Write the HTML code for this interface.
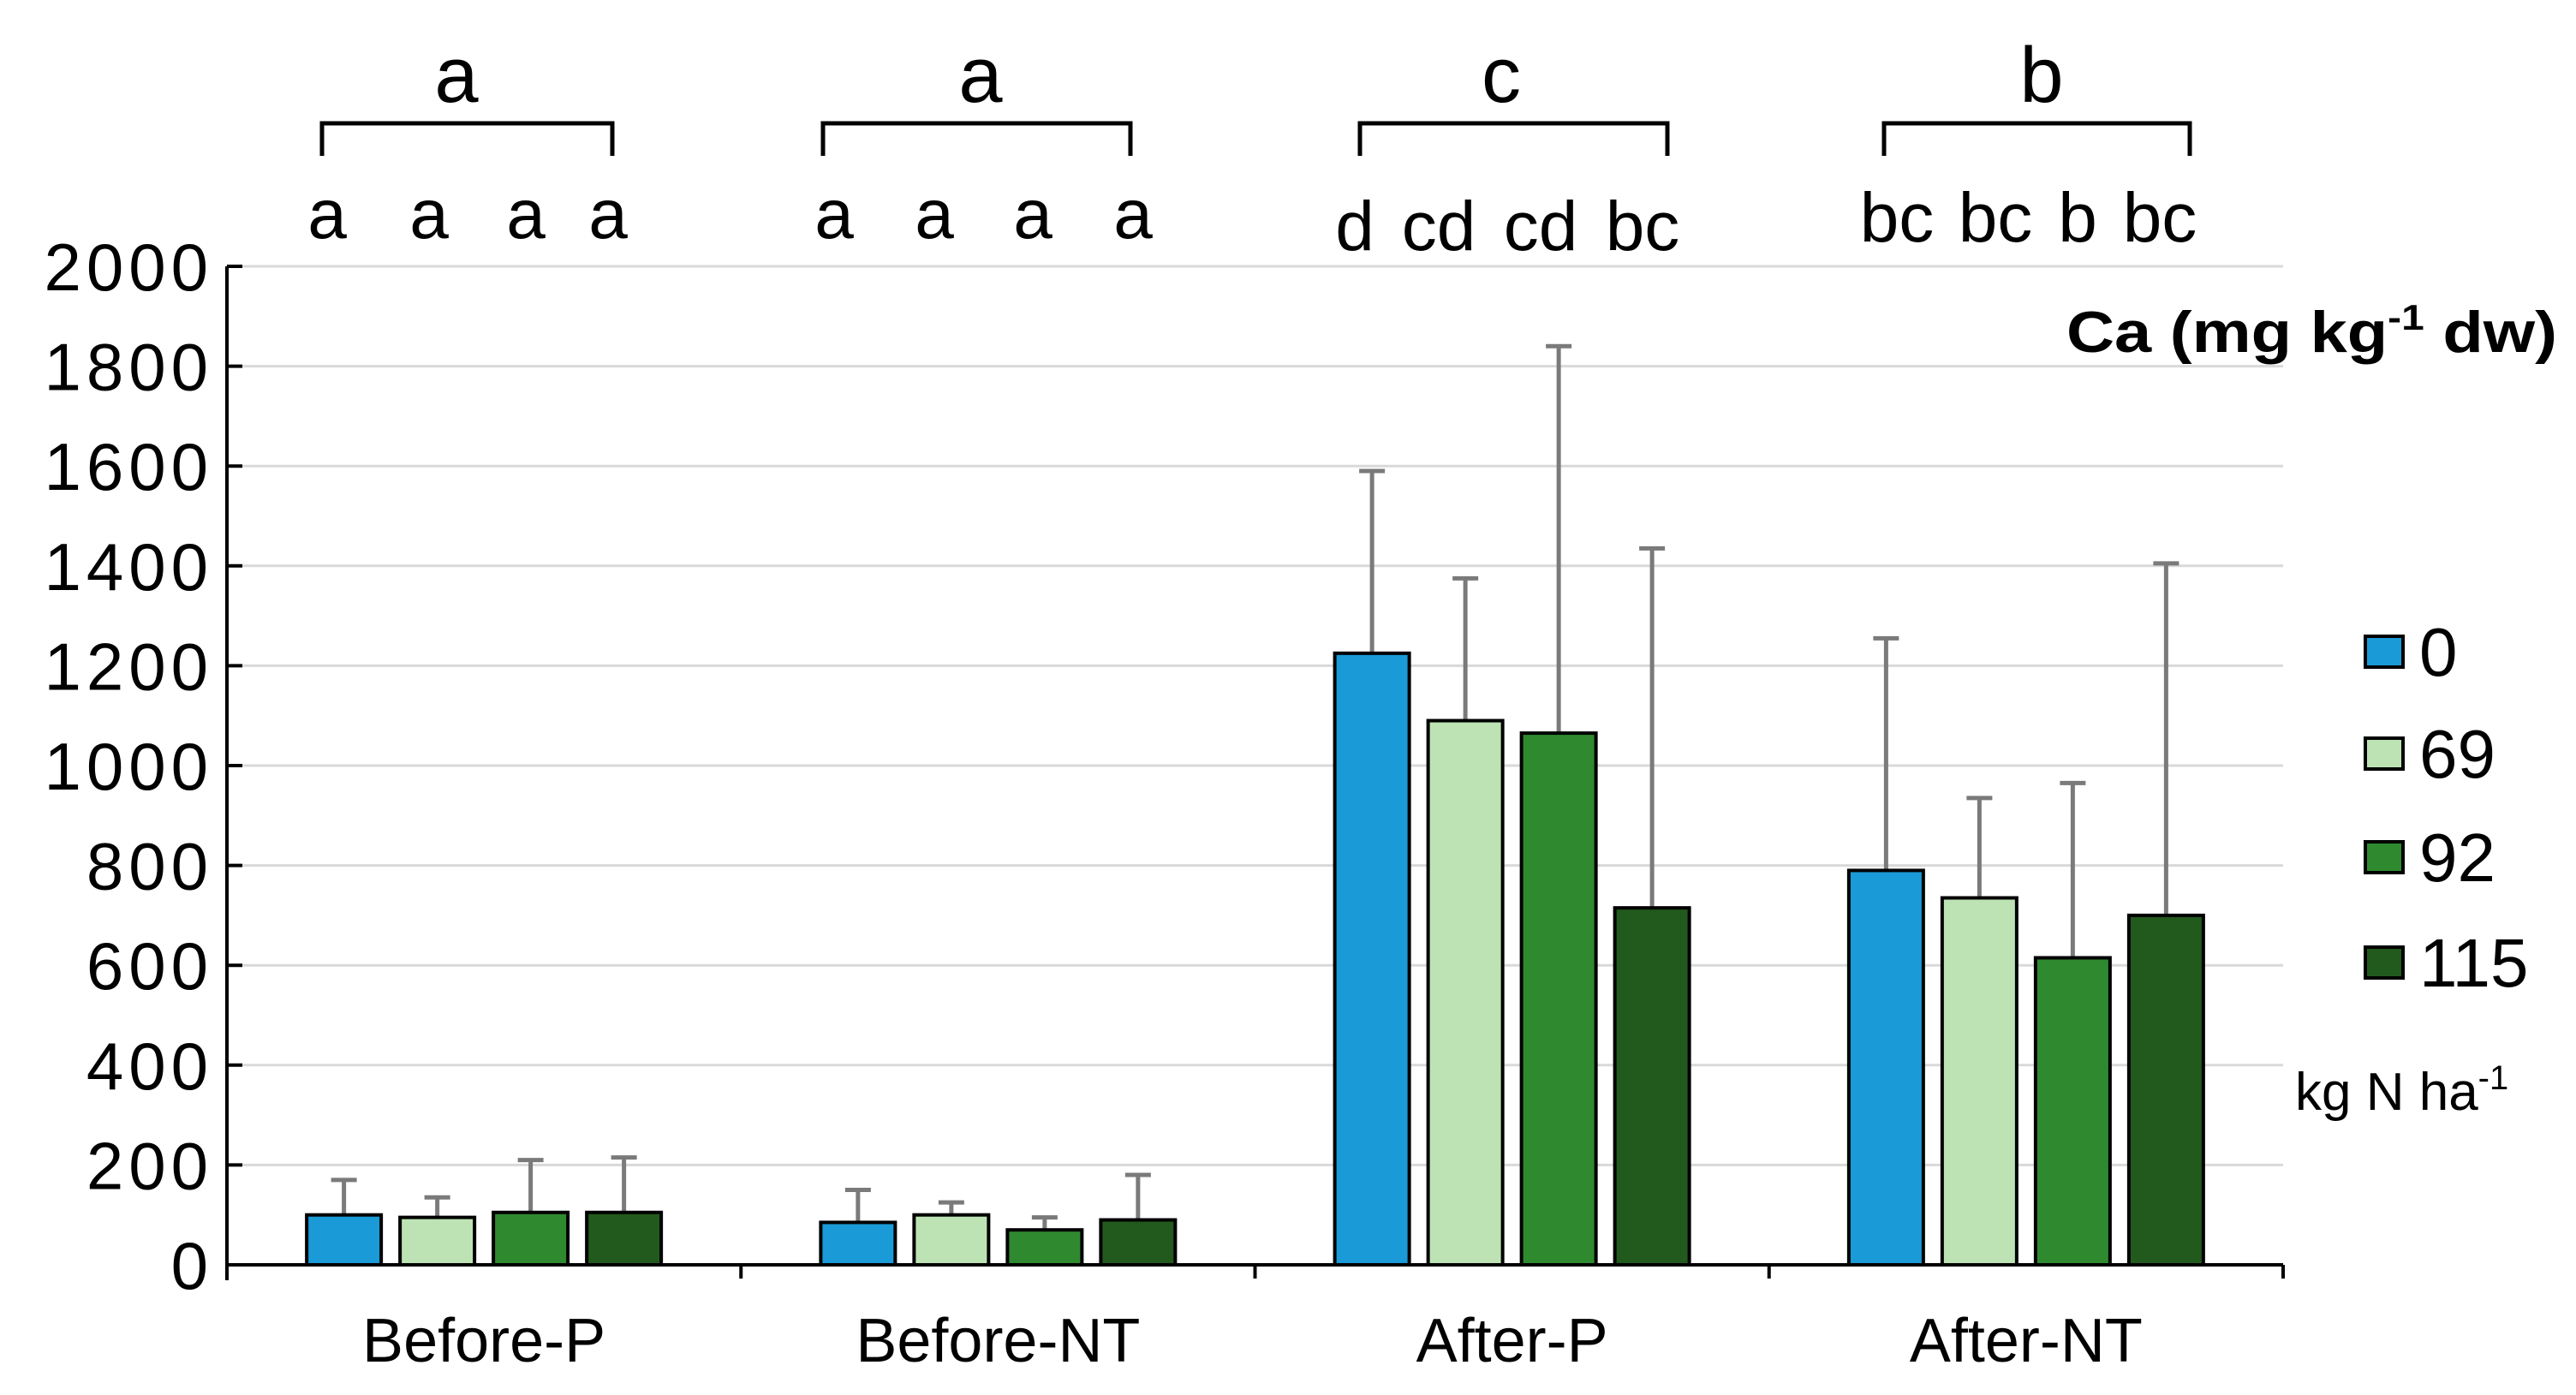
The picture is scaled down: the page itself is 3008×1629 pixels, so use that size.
<!DOCTYPE html>
<html><head><meta charset="utf-8"><style>
html,body{margin:0;padding:0;background:#fff;}
svg{display:block;}
text{font-family:"Liberation Sans",sans-serif;fill:#000;}
</style></head><body>
<svg id="chart" width="3008" height="1629" viewBox="0 0 3008 1629" xmlns="http://www.w3.org/2000/svg">
<g id="grid"></g>
<g id="bars"></g>
<g id="axes"></g>
<g id="letters"></g>
<text x="2986" y="411" text-anchor="end" font-weight="bold" font-size="68" textLength="573" lengthAdjust="spacingAndGlyphs">Ca (mg kg<tspan font-size="42" dy="-26">-1</tspan><tspan dy="26"> dw)</tspan></text>
<g id="legend"></g>
<text x="2680" y="1296" font-size="62">kg N ha<tspan font-size="40" dy="-24">-1</tspan></text>
</svg>
<script>
const categories = ["Before-P","Before-NT","After-P","After-NT"];
const seriesNames = ["0","69","92","115"];
const s0 = [100, 85, 1225, 790];
const s69 = [95, 100, 1090, 735];
const s92 = [105, 70, 1065, 615];
const s115 = [105, 90, 715, 700];
const e0 = [170, 150, 1590, 1255];
const e69 = [135, 125, 1375, 935];
const e92 = [210, 95, 1840, 965];
const e115 = [215, 180, 1435, 1405];
const yTicks = [0,200,400,600,800,1000,1200,1400,1600,1800,2000];
const groupLetters = ["a","a","c","b"];
const barLetters = [["a","a","a","a"],["a","a","a","a"],["d","cd","cd","bc"],["bc","bc","b","bc"]];
const colors = ["#1a9ad6","#bde3b5","#2f8a2f","#215a1c"];

const NS="http://www.w3.org/2000/svg";
const X0=265, X1=2666, Y0=1477, Y2000=311;
const catW=(X1-X0)/categories.length;
function y(v){return Y0-(v/2000)*(Y0-Y2000);}
function gx(i){return X0+catW*(i+0.5);}
function mk(tag,attrs,parent){const e=document.createElementNS(NS,tag);for(const k in attrs)e.setAttribute(k,attrs[k]);parent.appendChild(e);return e;}
const grid=document.getElementById('grid'),bars=document.getElementById('bars'),axes=document.getElementById('axes'),letters=document.getElementById('letters'),legend=document.getElementById('legend');

yTicks.forEach(t=>{
  if(t>0){const g=mk('line',{x1:X0,x2:X1,y1:y(t),y2:y(t),stroke:'#d9d9d9','stroke-width':3},grid);
  
  }
  const tk=mk('line',{x1:X0,x2:X0+18,y1:y(t),y2:y(t),stroke:'#000','stroke-width':4},axes);
  
  
  const lb=mk('text',{x:249,y:y(t)+28,'text-anchor':'end','font-size':78,'letter-spacing':6},axes);
  
  
  lb.textContent=t;
});
const ya=mk('line',{x1:X0,x2:X0,y1:Y2000,y2:Y0+18,stroke:'#000','stroke-width':4},axes);


const xa=mk('line',{x1:X0,x2:X1,y1:Y0,y2:Y0,stroke:'#000','stroke-width':4},axes);


for(let i=1;i<=categories.length;i++){
  const t=mk('line',{x1:X0+catW*i,x2:X0+catW*i,y1:Y0,y2:Y0+16,stroke:'#000','stroke-width':4},axes);
  
  
}
const vals=[s0,s69,s92,s115], errs=[e0,e69,e92,e115];
const pitch=109,bw=87;
const smallBase=[278,278,292,282];
const smallX=[[382,501,614,710],[974,1091,1206,1323],[1582,1680,1799,1918],[2215,2330,2426,2522]];
const brL=[376,961,1588,2200], brR=[715,1320,1947,2557], glX=[533,1145,1753,2384];
categories.forEach((c,i)=>{
  const cl=mk('text',{x:gx(i),y:1590,'text-anchor':'middle','font-size':72},axes);
  
  
  cl.textContent=c;
  for(let j=0;j<4;j++){
    const cx=gx(i)+(j-1.5)*pitch;
    const v=vals[j][i], e=errs[j][i];
    const el=mk('line',{x1:cx,x2:cx,y1:y(v),y2:y(e),stroke:'#7a7a7a','stroke-width':5},bars);
    
    
    const ec=mk('line',{x1:cx-15,x2:cx+15,y1:y(e),y2:y(e),stroke:'#7a7a7a','stroke-width':5},bars);
    
    
    const r=mk('rect',{x:cx-bw/2,y:y(v),width:bw,height:Y0-y(v),fill:colors[j],stroke:'#000','stroke-width':4},bars);
    
    
  }
  const br=mk('path',{d:`M${brL[i]},182 L${brL[i]},144 L${brR[i]},144 L${brR[i]},182`,fill:'none',stroke:'#000','stroke-width':5},letters);
  
  
  const gl=mk('text',{x:glX[i],y:119,'text-anchor':'middle','font-size':92},letters);
  
  
  gl.textContent=groupLetters[i];
  for(let j=0;j<4;j++){
    const sl=mk('text',{x:smallX[i][j],y:smallBase[i],'text-anchor':'middle','font-size':82},letters);
    
    
    sl.textContent=barLetters[i][j];
  }
});
const ly=[761,880,1001,1124];
seriesNames.forEach((s,j)=>{
  const sq=mk('rect',{x:2762,y:ly[j]-18,width:44,height:36,fill:colors[j],stroke:'#000','stroke-width':4},legend);
  
  
  const t=mk('text',{x:2825,y:ly[j]+28,'font-size':80},legend);
  
  
  t.textContent=s;
});
</script>
</body></html>
